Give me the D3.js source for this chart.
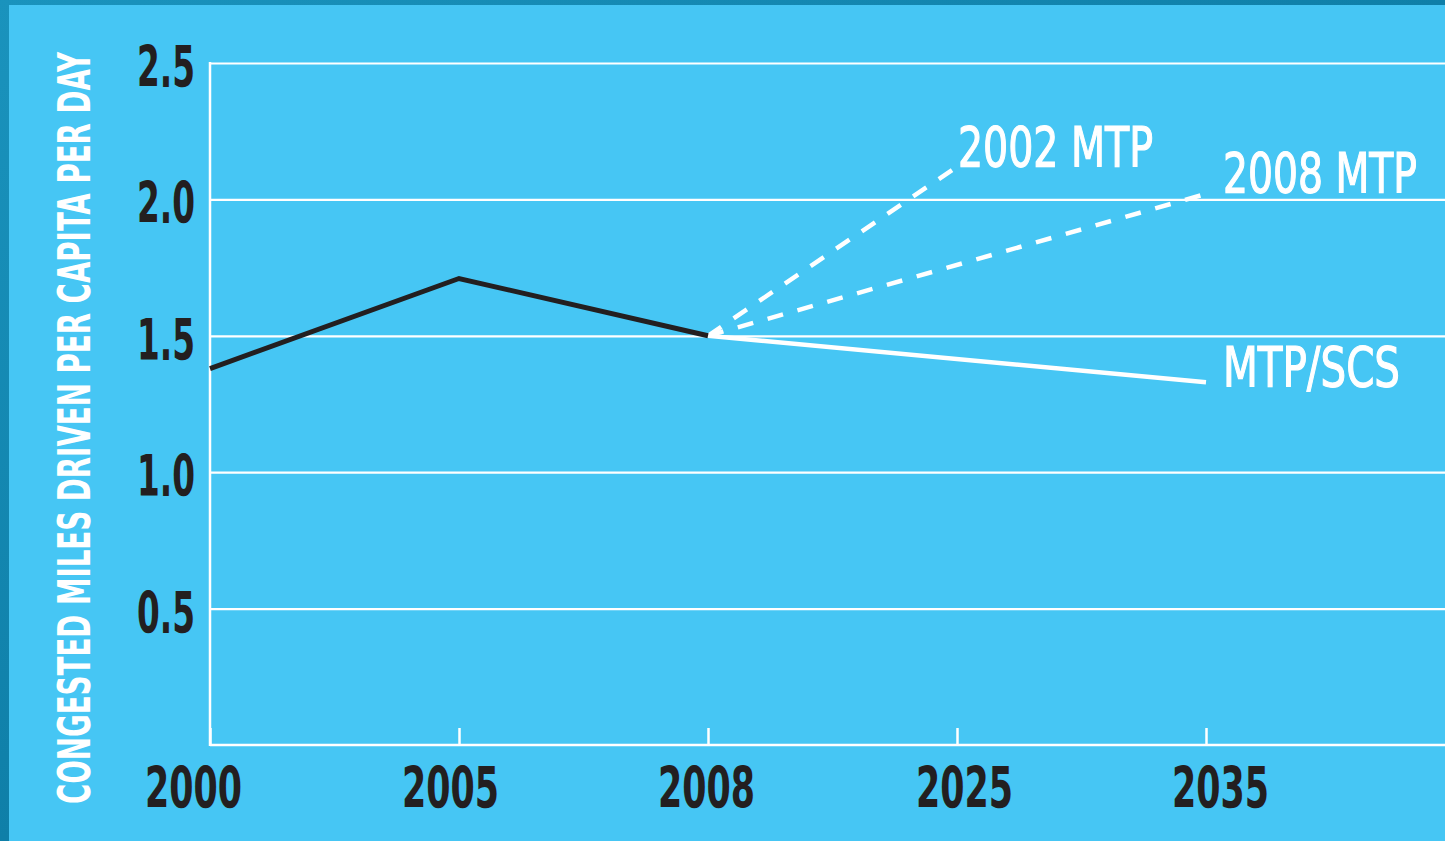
<!DOCTYPE html>
<html>
<head>
<meta charset="utf-8">
<style>
  html, body { margin: 0; padding: 0; background: #1388b2; }
  svg { display: block; }
  .grid line { stroke: #fff; stroke-width: 2.2; }
  .grid .domain { display: none; }
  .xaxis line { stroke: #fff; stroke-width: 2.5; }
  .xaxis .domain { display: none; }
  .ticklbl { font-family: "Liberation Sans Narrow", "DejaVu Sans Condensed", sans-serif; font-weight: bold; fill: #231f20; }
  .serieslbl { font-family: "Liberation Sans Narrow", "DejaVu Sans Condensed", sans-serif; fill: #fff; stroke: #fff; stroke-width: 1.2; }
  .ytitle { font-family: "Liberation Sans Narrow", "DejaVu Sans Condensed", sans-serif; font-weight: bold; fill: #fff; }
</style>
<script src="https://d3js.org/d3.v7.min.js"></script>
</head>
<body>
<script>
// data
var years = ["2000", "2005", "2008", "2025", "2035"];
var yTicks = [0.5, 1.0, 1.5, 2.0, 2.5];
var historical = [1.38, 1.71, 1.5];          // 2000, 2005, 2008
var mtp2002 = [1.5, 2.12];                    // 2008 -> 2025
var mtp2008 = [1.5, 2.02];                    // 2008 -> 2035
var mtpScs = [1.5, 1.33];                     // 2008 -> 2035
var yTitle = "CONGESTED MILES DRIVEN PER CAPITA PER DAY";

var W = 1445, H = 841;
var plotLeft = 210, plotTop = 63, plotBottom = 745, plotRight = W;

var svg = d3.select("body").append("svg")
    .attr("width", W)
    .attr("height", H);

// outer border
var defs = svg.append("defs");
var grad = defs.append("linearGradient").attr("id", "bord")
    .attr("x1", 0).attr("y1", 0).attr("x2", 1).attr("y2", 1);
grad.append("stop").attr("offset", "0%").attr("stop-color", "#1a93bd");
grad.append("stop").attr("offset", "50%").attr("stop-color", "#0f7fa8");
grad.append("stop").attr("offset", "100%").attr("stop-color", "#1790ba");
svg.append("rect").attr("width", W).attr("height", H).attr("fill", "url(#bord)");
svg.append("rect")
    .attr("x", 9).attr("y", 5)
    .attr("width", W - 9).attr("height", H - 5)
    .attr("fill", "#46c6f4");

var x = d3.scalePoint().domain(years).range([plotLeft, 1206]);
var y = d3.scaleLinear().domain([0, 2.5]).range([plotBottom, plotTop]);

// horizontal grid lines (0.5 .. 2.5)
svg.append("g")
    .attr("class", "grid")
    .attr("transform", "translate(" + plotLeft + ",0)")
    .call(d3.axisRight(y).tickValues(yTicks).tickSize(plotRight - plotLeft).tickFormat(""));

// y axis line + x axis line
svg.append("line")
    .attr("x1", plotLeft).attr("x2", plotLeft)
    .attr("y1", y(2.5) - 1).attr("y2", y(0) + 1)
    .attr("stroke", "#fff").attr("stroke-width", 2.5);
svg.append("line")
    .attr("x1", plotLeft).attr("x2", plotRight)
    .attr("y1", y(0)).attr("y2", y(0))
    .attr("stroke", "#fff").attr("stroke-width", 2.5);

// x ticks pointing up
svg.append("g")
    .attr("class", "xaxis")
    .attr("transform", "translate(0," + y(0) + ")")
    .call(d3.axisBottom(x).tickSize(-17).tickFormat(""));

// y tick labels
svg.append("g").selectAll("text")
    .data(yTicks)
    .join("text")
    .attr("class", "ticklbl")
    .attr("x", 195)
    .attr("y", function(d) { return y(d) + 24; })
    .attr("text-anchor", "end")
    .attr("font-size", 57)
    .attr("textLength", 58)
    .attr("lengthAdjust", "spacingAndGlyphs")
    .text(function(d) { return d3.format(".1f")(d); });

// x tick labels
svg.append("g").selectAll("text")
    .data(years)
    .join("text")
    .attr("class", "ticklbl")
    .attr("x", function(d, i) { return x(d) - 48 + [-17, -9, -2, 7, 14][i]; })
    .attr("y", 808)
    .attr("font-size", 57)
    .attr("textLength", 97)
    .attr("lengthAdjust", "spacingAndGlyphs")
    .text(function(d) { return d; });

// y title
svg.append("text")
    .attr("class", "ytitle")
    .attr("transform", "translate(90," + 428 + ") rotate(-90)")
    .attr("text-anchor", "middle")
    .attr("font-size", 45)
    .attr("textLength", 752)
    .attr("lengthAdjust", "spacingAndGlyphs")
    .text(yTitle);

var line = d3.line()
    .x(function(d) { return x(d[0]); })
    .y(function(d) { return y(d[1]); });

// projections
svg.append("path")
    .datum([["2008", mtp2002[0]], ["2025", mtp2002[1]]])
    .attr("d", line)
    .attr("fill", "none").attr("stroke", "#fff")
    .attr("stroke-width", 4.5).attr("stroke-dasharray", "16,15");
svg.append("path")
    .datum([["2008", mtp2008[0]], ["2035", mtp2008[1]]])
    .attr("d", line)
    .attr("fill", "none").attr("stroke", "#fff")
    .attr("stroke-width", 4.5).attr("stroke-dasharray", "16,15");
svg.append("path")
    .datum([["2008", mtpScs[0]], ["2035", mtpScs[1]]])
    .attr("d", line)
    .attr("fill", "none").attr("stroke", "#fff")
    .attr("stroke-width", 4.5);

// historical
svg.append("path")
    .datum(historical.map(function(v, i) { return [years[i], v]; }))
    .attr("d", line)
    .attr("fill", "none").attr("stroke", "#231f20")
    .attr("stroke-width", 5).attr("stroke-linejoin", "miter");

// series labels
var labels = [
  { text: "2002 MTP", yr: "2025", v: mtp2002[1], dx: 1, dy: -1, w: 195 },
  { text: "2008 MTP", yr: "2035", v: mtp2008[1], dx: 17, dy: -2, w: 194 },
  { text: "MTP/SCS", yr: "2035", v: mtpScs[1], dx: 17, dy: 4, w: 177 }
];
svg.append("g").selectAll("text")
    .data(labels)
    .join("text")
    .attr("class", "serieslbl")
    .attr("x", function(d) { return x(d.yr) + d.dx; })
    .attr("y", function(d) { return y(d.v) + d.dy; })
    .attr("font-size", 56)
    .attr("textLength", function(d) { return d.w; })
    .attr("lengthAdjust", "spacingAndGlyphs")
    .text(function(d) { return d.text; });
</script>
</body>
</html>
